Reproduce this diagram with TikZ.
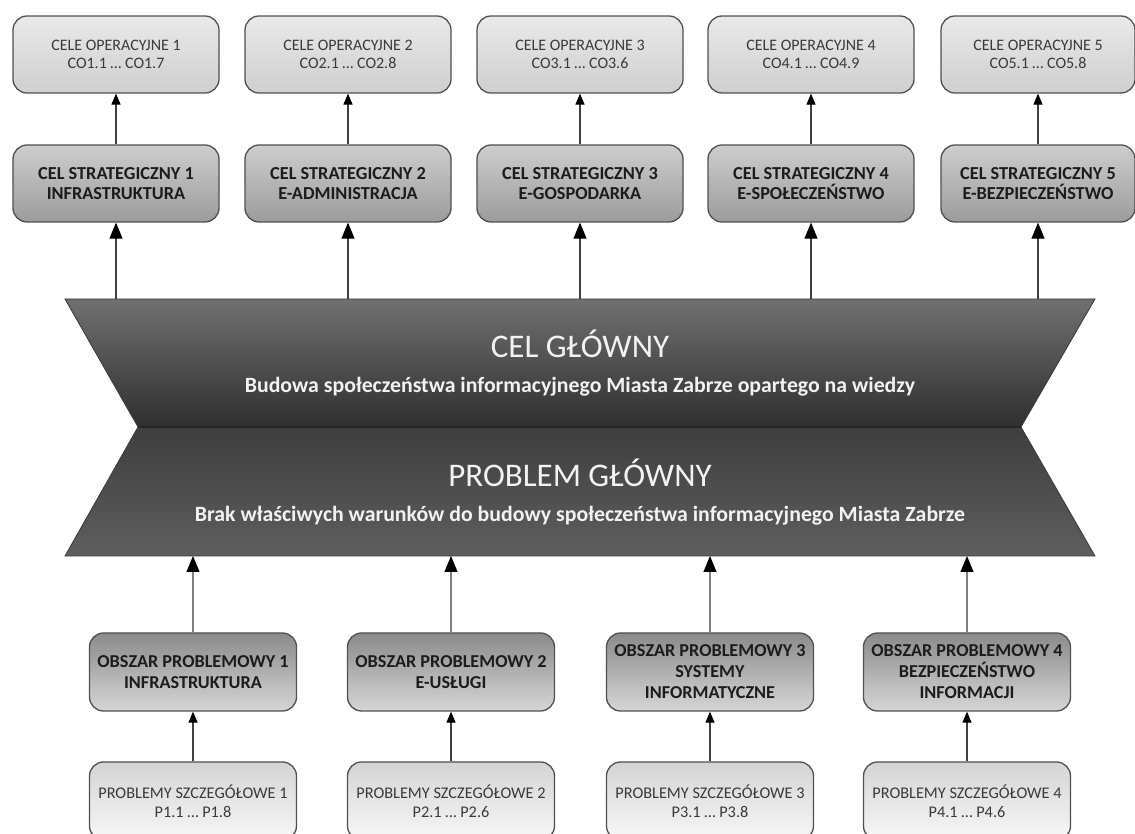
\documentclass[tikz,border=0pt]{standalone}
\usepackage{fontspec}
\setmainfont{Carlito}
\usetikzlibrary{arrows.meta}
\definecolor{boxline}{HTML}{505050}
\definecolor{op1}{HTML}{E9E9E9}
\definecolor{op2}{HTML}{CFCFCF}
\definecolor{st1}{HTML}{CDCDCD}
\definecolor{st2}{HTML}{9C9C9C}
\definecolor{ob1}{HTML}{8A8A8A}
\definecolor{ob2}{HTML}{D6D6D6}
\definecolor{pr1}{HTML}{D4D4D4}
\definecolor{pr2}{HTML}{F7F7F7}
\definecolor{txtlight}{HTML}{3A3A3A}
\definecolor{txtdark}{HTML}{1C1C1C}
\definecolor{tr1}{HTML}{707070}
\definecolor{tr2}{HTML}{2F2F2F}
\definecolor{tr3}{HTML}{3E3E3E}
\definecolor{tr4}{HTML}{5E5E5E}
\definecolor{trline}{HTML}{3A3A3A}
\definecolor{arrdark}{HTML}{404040}
\definecolor{arrlight}{HTML}{808080}
\definecolor{trtext}{HTML}{F2F2F2}
\begin{document}
\begin{tikzpicture}[x=1pt,y=1pt,
  box/.style={rounded corners=14pt, draw=boxline, line width=1.3pt, minimum width=206pt, minimum height=77pt, align=center, inner sep=0pt},
  opbox/.style={box, top color=op1, bottom color=op2, text=txtlight, font=\fontsize{16}{18}\selectfont},
  stbox/.style={box, top color=st1, bottom color=st2, text=txtdark, font=\fontsize{18.3}{20}\selectfont\bfseries},
  obbox/.style={box, minimum width=207pt, minimum height=78pt, top color=ob1, bottom color=ob2, text=txtdark, font=\fontsize{18.2}{21}\selectfont\bfseries},
  prbox/.style={box, minimum width=207pt, minimum height=78pt, top color=pr1, bottom color=pr2, text=txtlight, font=\fontsize{16.3}{19}\selectfont},
  bigarr/.style={draw=arrdark, line width=1.1pt, -{Triangle[width=13pt,length=16pt,color=black]}},
  bigarrl/.style={draw=arrlight, line width=1.1pt, -{Triangle[width=13pt,length=16pt,color=black]}},
  smallarr/.style={draw=arrdark, line width=1.2pt, -{Triangle[width=9pt,length=11pt,color=black]}},
  title/.style={text=trtext, font=\fontsize{33}{35}\selectfont},
  subtitle/.style={text=trtext, font=\fontsize{21.8}{24}\selectfont\bfseries}
]
\useasboundingbox (0,0) rectangle (1135,834);

% Top row: operational goals
\node[opbox] (o1) at (116,779.5) {CELE OPERACYJNE 1\\CO1.1 \ldots\ CO1.7};
\node[opbox] (o2) at (348,779.5) {CELE OPERACYJNE 2\\CO2.1 \ldots\ CO2.8};
\node[opbox] (o3) at (580,779.5) {CELE OPERACYJNE 3\\CO3.1 \ldots\ CO3.6};
\node[opbox] (o4) at (811,779.5) {CELE OPERACYJNE 4\\CO4.1 \ldots\ CO4.9};
\node[opbox, minimum width=194pt] (o5) at (1038,779.5) {CELE OPERACYJNE 5\\CO5.1 \ldots\ CO5.8};

% Strategic goals
\node[stbox] (s1) at (116,650.5) {CEL STRATEGICZNY 1\\INFRASTRUKTURA};
\node[stbox] (s2) at (348,650.5) {CEL STRATEGICZNY 2\\E-ADMINISTRACJA};
\node[stbox] (s3) at (580,650.5) {CEL STRATEGICZNY 3\\E-GOSPODARKA};
\node[stbox] (s4) at (811,650.5) {CEL STRATEGICZNY 4\\E-SPOŁECZEŃSTWO};
\node[stbox, minimum width=194pt] (s5) at (1038,650.5) {CEL STRATEGICZNY 5\\E-BEZPIECZEŃSTWO};

% Central hourglass
\shadedraw[top color=tr1, bottom color=tr2, draw=trline, line width=0.8pt]
  (65,535) -- (1095,535) -- (1021,407) -- (138,407) -- cycle;
\shadedraw[top color=tr3, bottom color=tr4, draw=trline, line width=0.8pt]
  (138,407) -- (1021,407) -- (1095,278) -- (65,278) -- cycle;
\draw[line width=1.6pt, draw=black!85] (138,407) -- (1021,407);

\node[title] (cg) at (580,490) {CEL GŁÓWNY};
\node[subtitle] (cgs) at (580,447) {Budowa społeczeństwa informacyjnego Miasta Zabrze opartego na wiedzy};
\node[title] (pg) at (580,361) {PROBLEM GŁÓWNY};
\node[subtitle] (pgs) at (580,318) {Brak właściwych warunków do budowy społeczeństwa informacyjnego Miasta Zabrze};

% Problem areas
\node[obbox] (r1) at (193,162) {OBSZAR PROBLEMOWY 1\\INFRASTRUKTURA};
\node[obbox] (r2) at (451,162) {OBSZAR PROBLEMOWY 2\\E-USŁUGI};
\node[obbox] (r3) at (710,162) {OBSZAR PROBLEMOWY 3\\SYSTEMY\\INFORMATYCZNE};
\node[obbox] (r4) at (967,162) {OBSZAR PROBLEMOWY 4\\BEZPIECZEŃSTWO\\INFORMACJI};

% Detailed problems
\node[prbox] (p1) at (193,33) {PROBLEMY SZCZEGÓŁOWE 1\\P1.1 \ldots\ P1.8};
\node[prbox] (p2) at (451,33) {PROBLEMY SZCZEGÓŁOWE 2\\P2.1 \ldots\ P2.6};
\node[prbox] (p3) at (710,33) {PROBLEMY SZCZEGÓŁOWE 3\\P3.1 \ldots\ P3.8};
\node[prbox] (p4) at (967,33) {PROBLEMY SZCZEGÓŁOWE 4\\P4.1 \ldots\ P4.6};

% Anchor points on the hourglass
\coordinate (t1) at (116,535);
\coordinate (t2) at (348,535);
\coordinate (t3) at (580,535);
\coordinate (t4) at (811,535);
\coordinate (t5) at (1038,535);
\coordinate (u1) at (193,278);
\coordinate (u2) at (451,278);
\coordinate (u3) at (710,278);
\coordinate (u4) at (967,278);

% Connectors
\foreach \i in {1,...,5}{
  \draw[bigarr] (t\i) -- (s\i.south);
  \draw[smallarr] (s\i.north) -- (o\i.south);
}
\foreach \i in {1,...,4}{
  \draw[bigarrl] (r\i.north) -- (u\i);
  \draw[smallarr] (p\i.north) -- (r\i.south);
}
\end{tikzpicture}
\end{document}
